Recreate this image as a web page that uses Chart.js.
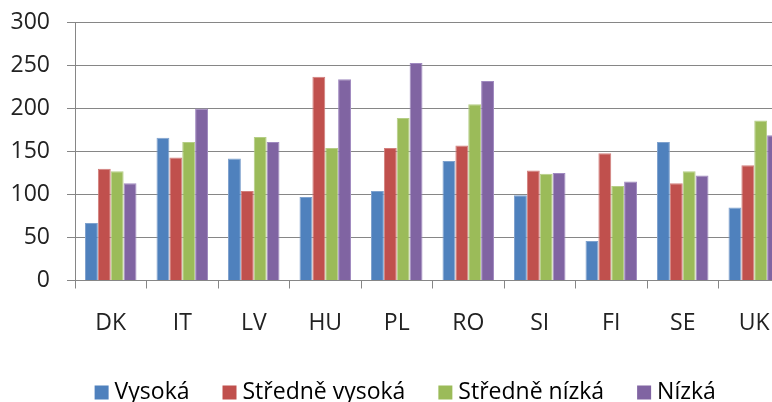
<!DOCTYPE html>
<html>
<head>
<meta charset="utf-8">
<script src="https://cdn.jsdelivr.net/npm/chart.js@4"></script>
<style>
html,body{margin:0;padding:0;overflow:hidden;background:#fff;width:772px;height:402px;}
canvas{display:block;}
</style>
</head>
<body>
<canvas id="c" width="800" height="414"></canvas>
<script>
const categories = ['DK','IT','LV','HU','PL','RO','SI','FI','SE','UK'];
const seriesNames = ['Vysoká','Středně vysoká','Středně nízká','Nízká'];
const vysoka   = [67, 166, 142, 97, 104, 139, 99, 46, 161, 85];
const strVysoka = [130, 143, 104, 237, 154, 157, 128, 148, 113, 134];
const strNizka = [127, 161, 167, 154, 189, 205, 124, 110, 127, 186];
const nizka    = [113, 200, 161, 234, 253, 232, 125, 115, 122, 169];
const yTicks = [0, 50, 100, 150, 200, 250, 300];
const colors = ['#4F81BD','#C0504D','#9BBB59','#8064A2'];
const edgeColors = ['#7FA2CE','#D27F7D','#B5CE86','#A08AC0'];

const FONT = {family: 'Open Sans', size: 23};
const allSeries = [vysoka, strVysoka, strNizka, nizka];

const shiftLegend = {
  id: 'shiftLegend',
  afterLayout(chart) {
    if (chart.legend) { chart.legend.left += 13; chart.legend.right += 13; }
  }
};

new Chart(document.getElementById('c'), {
  type: 'bar',
  data: {
    labels: categories,
    datasets: allSeries.map((d, i) => ({
      label: seriesNames[i],
      data: d,
      backgroundColor: colors[i],
      borderColor: edgeColors[i],
      borderWidth: 1,
      categoryPercentage: 0.72,
      barPercentage: 1.0
    }))
  },
  plugins: [shiftLegend],
  options: {
    responsive: false,
    animation: false,
    layout: {padding: {top: 22.5, right: 10, left: 0, bottom: 0}},
    plugins: {
      tooltip: {enabled: false},
      legend: {
        position: 'bottom',
        labels: {
          font: FONT,
          color: '#222',
          usePointStyle: true,
          pointStyle: 'rect',
          boxWidth: 3,
          boxHeight: 14,
          padding: 38.5,
          generateLabels: chart => chart.data.datasets.map((ds, i) => ({
            text: ds.label,
            fillStyle: colors[i],
            strokeStyle: colors[i],
            lineWidth: 0,
            pointStyle: 'rect',
            datasetIndex: i,
            hidden: false
          }))
        }
      }
    },
    scales: {
      x: {
        grid: {offset: true, drawOnChartArea: false, tickLength: 8, color: '#868686'},
        border: {color: '#868686'},
        ticks: {font: FONT, color: '#222', padding: 20.7, maxRotation: 0},
        afterFit: s => { s.height = 62; s.paddingLeft = 0; s.paddingRight = 0; }
      },
      y: {
        min: 0, max: 300,
        afterBuildTicks: s => { s.ticks = yTicks.map(v => ({value: v})); },
        grid: {color: '#868686', tickLength: 8},
        border: {color: '#868686'},
        ticks: {font: FONT, color: '#222', padding: 17},
        afterFit: s => { s.width = 75; s.paddingTop = 0; s.paddingBottom = 0; }
      }
    }
  }
});
</script>
</body>
</html>
